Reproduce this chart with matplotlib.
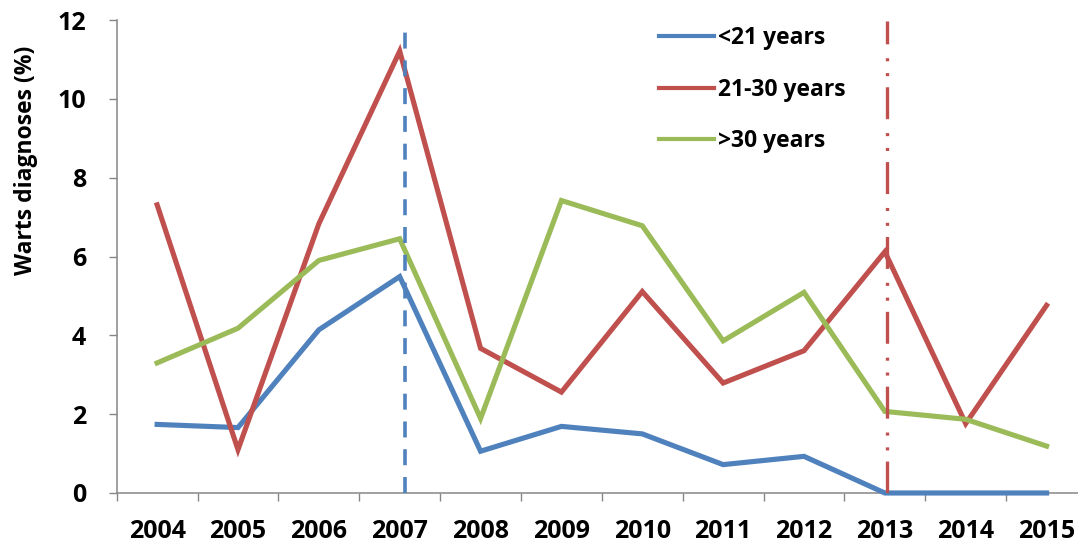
import numpy as np
import matplotlib
matplotlib.use("Agg")
import matplotlib.pyplot as plt

years = ["2004", "2005", "2006", "2007", "2008", "2009",
         "2010", "2011", "2012", "2013", "2014", "2015"]
under_21 = [1.74, 1.66, 4.14, 5.49, 1.06, 1.69, 1.50, 0.72, 0.93, 0.0, 0.0, 0.0]
age_21_30 = [7.31, 1.10, 6.83, 11.21, 3.67, 2.56, 5.11, 2.79, 3.61, 6.12, 1.76, 4.76]
over_30 = [3.30, 4.18, 5.90, 6.45, 1.89, 7.42, 6.78, 3.86, 5.09, 2.07, 1.87, 1.19]

series = [
    ("<21 years", under_21, "#4F81BD"),
    ("21-30 years", age_21_30, "#C0504D"),
    (">30 years", over_30, "#9BBB59"),
]

plt.rcParams["font.family"] = ["Open Sans", "DejaVu Sans"]
plt.rcParams["font.weight"] = "bold"
plt.rcParams["lines.scale_dashes"] = False

AXIS_GRAY = "#868686"

W, H = 1078, 544
fig = plt.figure(figsize=(W / 100, H / 100), dpi=100)
ax = fig.add_axes([116.7 / W, 1 - 493 / H, (1087 - 116.7) / W, (493 - 20) / H])

x = np.arange(len(years))
for label, vals, color in series:
    ax.plot(x, vals, color=color, lw=3.7, label=label, clip_on=False,
            solid_joinstyle="miter", zorder=3)

# markers for the two reference years
ax.plot([3.066, 3.066], [0, 11.83], color="#4F81BD", lw=2.6,
        linestyle=(0, (11.5, 8.5)), zorder=4)
ax.plot([9.03, 9.03], [0, 11.97], color="#C0504D", lw=2.4,
        linestyle=(0, (23, 8, 2.2, 8.5, 2.2, 10)), zorder=4)

ax.set_xlim(-0.5, 11.5)
ax.set_ylim(0, 12)
ax.set_yticks(np.arange(0, 13, 2))
ax.set_xticks(x)
ax.set_xticklabels(years)
ax.set_xticks(np.arange(-0.5, 12, 1), minor=True)

ax.tick_params(axis="x", which="major", length=0, pad=18.5, labelsize=18)
ax.tick_params(axis="x", which="minor", length=6, width=1, color=AXIS_GRAY, direction="out")
ax.tick_params(axis="y", length=6, width=1, color=AXIS_GRAY, pad=16, labelsize=18)

for side in ("top", "right"):
    ax.spines[side].set_visible(False)
for side in ("left", "bottom"):
    ax.spines[side].set_color(AXIS_GRAY)
    ax.spines[side].set_linewidth(1.1)

ax.set_ylabel("Warts diagnoses (%)", fontsize=16.5, fontweight="bold")
ax.yaxis.set_label_coords(-0.081, 0.703)

leg = ax.legend(loc="upper left", bbox_to_anchor=(659 / W, 1 - 26.5 / H),
                bbox_transform=fig.transFigure, frameon=False, fontsize=16.5,
                handlelength=2.4, handletextpad=0.17, labelspacing=1.18,
                borderpad=0, borderaxespad=0)
for line in leg.get_lines():
    line.set_linewidth(3.0)

fig.savefig("out.png", dpi=100)
